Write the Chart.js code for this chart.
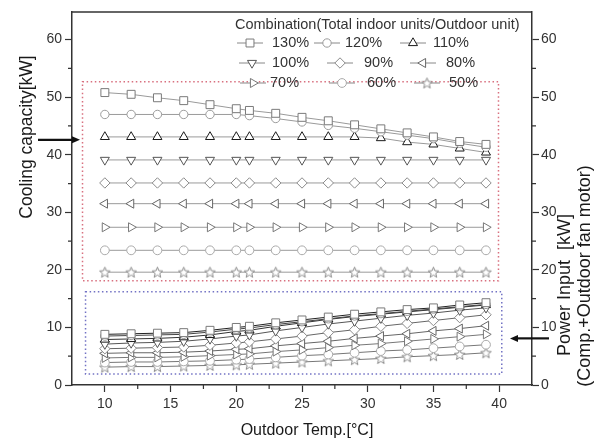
<!DOCTYPE html>
<html><head><meta charset="utf-8">
<script src="https://cdn.jsdelivr.net/npm/chart.js@4"></script>
<style>html,body{margin:0;padding:0;background:#fff}#wrap{width:608px;height:439px}</style>
</head><body><div id="wrap"><canvas id="c" width="608" height="439"></canvas></div>
<script>
// ---------------- DATA ----------------
const temps = [10, 12, 14, 16, 18, 20, 21, 23, 25, 27, 29, 31, 33, 35, 37, 39];
const combinations = ['130%', '120%', '110%', '100%', '90%', '80%', '70%', '60%', '50%'];

// Cooling capacity [kW] (left axis)
const capacity130 = [50.8, 50.5, 49.9, 49.4, 48.7, 48.0, 47.7, 47.2, 46.5, 45.9, 45.2, 44.5, 43.8, 43.1, 42.3, 41.8];
const capacity120 = [47.0, 47.0, 47.0, 47.0, 47.0, 47.0, 46.8, 46.3, 45.7, 45.1, 44.6, 44.0, 43.4, 42.8, 42.0, 41.3];
const capacity110 = [43.1, 43.1, 43.1, 43.1, 43.1, 43.1, 43.1, 43.1, 43.1, 43.1, 43.1, 42.9, 42.2, 41.8, 41.1, 40.4];
const capacity100 = [39.1, 39.1, 39.1, 39.1, 39.1, 39.1, 39.1, 39.1, 39.1, 39.1, 39.1, 39.1, 39.1, 39.1, 39.1, 39.1];
const capacity90  = [35.1, 35.1, 35.1, 35.1, 35.1, 35.1, 35.1, 35.1, 35.1, 35.1, 35.1, 35.1, 35.1, 35.1, 35.1, 35.1];
const capacity80  = [31.5, 31.5, 31.5, 31.5, 31.5, 31.5, 31.5, 31.5, 31.5, 31.5, 31.5, 31.5, 31.5, 31.5, 31.5, 31.5];
const capacity70  = [27.4, 27.4, 27.4, 27.4, 27.4, 27.4, 27.4, 27.4, 27.4, 27.4, 27.4, 27.4, 27.4, 27.4, 27.4, 27.4];
const capacity60  = [23.4, 23.4, 23.4, 23.4, 23.4, 23.4, 23.4, 23.4, 23.4, 23.4, 23.4, 23.4, 23.4, 23.4, 23.4, 23.4];
const capacity50  = [19.6, 19.6, 19.6, 19.6, 19.6, 19.6, 19.6, 19.6, 19.6, 19.6, 19.6, 19.6, 19.6, 19.6, 19.6, 19.6];

// Power input [kW] (right axis)
const power130 = [8.8, 8.9, 9.0, 9.1, 9.5, 10.0, 10.2, 10.8, 11.3, 11.8, 12.3, 12.7, 13.1, 13.4, 13.9, 14.3];
const power120 = [8.5, 8.6, 8.7, 8.8, 9.2, 9.7, 9.9, 10.5, 11.0, 11.5, 12.0, 12.4, 12.8, 13.2, 13.6, 14.0];
const power110 = [7.9, 8.0, 8.1, 8.3, 8.7, 9.3, 9.5, 10.2, 10.8, 11.4, 11.9, 12.3, 12.7, 13.1, 13.5, 13.9];
const power100 = [7.1, 7.3, 7.4, 7.6, 8.0, 8.5, 8.7, 9.4, 10.0, 10.6, 11.1, 11.6, 12.1, 12.5, 13.0, 13.4];
const power90  = [6.3, 6.4, 6.5, 6.6, 6.9, 7.3, 7.5, 8.0, 8.5, 9.1, 9.6, 10.2, 10.7, 11.2, 11.7, 12.2];
const power80  = [5.5, 5.6, 5.6, 5.7, 5.9, 6.2, 6.3, 6.8, 7.2, 7.6, 8.1, 8.5, 8.9, 9.4, 9.8, 10.3];
const power70  = [4.7, 4.8, 4.8, 4.9, 5.1, 5.3, 5.4, 5.8, 6.1, 6.5, 6.9, 7.2, 7.6, 8.0, 8.4, 8.8];
const power60  = [3.9, 4.0, 4.0, 4.1, 4.2, 4.4, 4.5, 4.8, 5.1, 5.3, 5.6, 5.9, 6.1, 6.4, 6.7, 7.0];
const power50  = [3.1, 3.2, 3.2, 3.3, 3.4, 3.5, 3.6, 3.8, 4.0, 4.2, 4.4, 4.6, 4.9, 5.1, 5.3, 5.6];

const xTickValues = [10, 15, 20, 25, 30, 35, 40];
const yTickValues = [0, 10, 20, 30, 40, 50, 60];
const legendTitle = 'Combination(Total indoor units/Outdoor unit)';
const xTitle = 'Outdoor Temp.[\u00B0C]';
const yTitle = 'Cooling capacity[kW]';
const y2TitleLines = ['Power Input  [kW]', '(Comp.+Outdoor fan motor)'];
// ---------------------------------------

const capacitySeries = [capacity130, capacity120, capacity110, capacity100, capacity90, capacity80, capacity70, capacity60, capacity50];
const powerSeries = [power130, power120, power110, power100, power90, power80, power70, power60, power50];

function makeStar(color) {
  const c = document.createElement('canvas');
  c.width = 13; c.height = 13;
  const g = c.getContext('2d');
  g.strokeStyle = color; g.lineWidth = 1; g.fillStyle = '#fff';
  g.beginPath();
  for (let i = 0; i < 10; i++) {
    const r = i % 2 ? 2.4 : 5.6;
    const a = -Math.PI / 2 + i * Math.PI / 5;
    g.lineTo(6.5 + r * Math.cos(a), 7 + r * Math.sin(a));
  }
  g.closePath(); g.fill(); g.stroke();
  return c;
}

const markerStyles = [
  {style: 'rect', rot: 0, color: '#7a7a7a', r: 5.6},
  {style: 'circle', rot: 0, color: '#9a9a9a', r: 4.2},
  {style: 'triangle', rot: 0, color: '#1a1a1a', r: 5.2},
  {style: 'triangle', rot: 180, color: '#555', r: 5.2},
  {style: 'rectRot', rot: 0, color: '#8a8a8a', r: 5.2},
  {style: 'triangle', rot: -90, color: '#666', r: 5.2},
  {style: 'triangle', rot: 90, color: '#777', r: 5.2},
  {style: 'circle', rot: 0, color: '#aaa', r: 4.4},
  {style: makeStar('#8a8a8a'), rot: 0, color: '#8a8a8a', r: 5.5}
];
const powerLineColors = ['#222', '#444', '#333', '#555', '#666', '#666', '#777', '#777', '#777'];

const datasets = [];
combinations.forEach((name, i) => {
  const m = markerStyles[i];
  datasets.push({
    label: name + ' cap', yAxisID: 'y',
    data: temps.map((t, j) => ({x: t, y: capacitySeries[i][j]})),
    borderColor: '#9a9a9a', borderWidth: 1,
    pointStyle: m.style, pointRotation: m.rot, pointRadius: m.r,
    pointBorderColor: m.color, pointBackgroundColor: '#fff', pointBorderWidth: 1,
    tension: 0, fill: false
  });
});
combinations.forEach((name, i) => {
  const m = markerStyles[i];
  datasets.push({
    label: name + ' power', yAxisID: 'y2',
    data: temps.map((t, j) => ({x: t, y: powerSeries[i][j]})),
    borderColor: powerLineColors[i], borderWidth: 1,
    pointStyle: m.style, pointRotation: m.rot, pointRadius: m.r,
    pointBorderColor: m.color, pointBackgroundColor: '#fff', pointBorderWidth: 1,
    tension: 0, fill: false
  });
});

const FONT = "'Liberation Sans', Arial, sans-serif";
const AXIS = '#333';

function axisCommon(extra) {
  return Object.assign({
    type: 'linear',
    grid: {drawOnChartArea: false, drawTicks: true, tickLength: 7, tickColor: AXIS, tickWidth: 1.2},
    border: {display: true, color: AXIS, width: 1.5},
    ticks: {color: '#333', font: {family: FONT, size: 14}, autoSkip: false, maxRotation: 0, padding: 3}
  }, extra);
}

const decorPlugin = {
  id: 'decor',
  beforeDatasetsDraw(chart) {
    const ctx = chart.ctx, x = chart.scales.x, y = chart.scales.y, y2 = chart.scales.y2;
    ctx.save();
    ctx.lineWidth = 1.5;
    ctx.setLineDash([1.5, 2.6]);
    ctx.strokeStyle = '#d8707f';
    let l = x.getPixelForValue(8.3), r = x.getPixelForValue(39.95), t = y.getPixelForValue(52.7), b = y.getPixelForValue(18.1);
    ctx.strokeRect(l, t, r - l, b - t);
    ctx.strokeStyle = '#7272c4';
    l = x.getPixelForValue(8.53); r = x.getPixelForValue(40.2); t = y2.getPixelForValue(16.2); b = y2.getPixelForValue(1.9);
    ctx.strokeRect(l, t, r - l, b - t);
    ctx.restore();
  },
  afterDraw(chart) {
    const ctx = chart.ctx, ca = chart.chartArea;
    const x = chart.scales.x, y = chart.scales.y, y2 = chart.scales.y2;
    ctx.save();
    // frame top
    ctx.strokeStyle = AXIS; ctx.lineWidth = 1.5;
    ctx.beginPath(); ctx.moveTo(ca.left, ca.top); ctx.lineTo(ca.right, ca.top); ctx.stroke();
    // minor ticks
    ctx.lineWidth = 1.2;
    ctx.beginPath();
    for (let v = 12.5; v < 42.5; v += 5) { const px = x.getPixelForValue(v); ctx.moveTo(px, ca.bottom); ctx.lineTo(px, ca.bottom + 4); }
    for (let v = 5; v < 64; v += 10) {
      const py = y.getPixelForValue(v); ctx.moveTo(ca.left, py); ctx.lineTo(ca.left - 4, py);
      const py2 = y2.getPixelForValue(v); ctx.moveTo(ca.right, py2); ctx.lineTo(ca.right + 4, py2);
    }
    ctx.stroke();

    // arrows
    ctx.fillStyle = '#111'; ctx.strokeStyle = '#111'; ctx.lineWidth = 2.2;
    let ay = y.getPixelForValue(42.6);
    ctx.beginPath(); ctx.moveTo(ca.left - 34, ay); ctx.lineTo(ca.left + 1, ay); ctx.stroke();
    ctx.beginPath(); ctx.moveTo(ca.left + 8, ay); ctx.lineTo(ca.left, ay - 3.5); ctx.lineTo(ca.left, ay + 3.5); ctx.closePath(); ctx.fill();
    ay = y2.getPixelForValue(8.1);
    ctx.beginPath(); ctx.moveTo(ca.right + 17, ay); ctx.lineTo(ca.right - 14, ay); ctx.stroke();
    ctx.beginPath(); ctx.moveTo(ca.right - 22, ay); ctx.lineTo(ca.right - 14, ay - 3.5); ctx.lineTo(ca.right - 14, ay + 3.5); ctx.closePath(); ctx.fill();

    // axis titles
    ctx.fillStyle = '#1a1a1a';
    ctx.textAlign = 'center'; ctx.textBaseline = 'middle';
    ctx.font = '16px ' + FONT;
    ctx.fillText(xTitle, 307, 431);
    ctx.save(); ctx.translate(27, 137); ctx.rotate(-Math.PI / 2);
    ctx.font = '17.5px ' + FONT; ctx.fillText(yTitle, 0, 0); ctx.restore();
    ctx.save(); ctx.translate(565, 285); ctx.rotate(-Math.PI / 2);
    ctx.font = '18px ' + FONT; ctx.fillText(y2TitleLines[0], 0, 0); ctx.restore();
    ctx.save(); ctx.translate(585, 276); ctx.rotate(-Math.PI / 2);
    ctx.font = '18px ' + FONT; ctx.fillText(y2TitleLines[1], 0, 0); ctx.restore();

    // legend
    ctx.textAlign = 'left';
    ctx.fillStyle = '#333';
    ctx.font = '14.5px ' + FONT;
    ctx.fillText(legendTitle, 235, 25);
    const rows = [43, 63, 83];
    const layout = [
      [[250, 272], [327, 345], [413, 433]],
      [[252, 272], [340, 364], [423, 446]],
      [[253, 270], [342, 367], [427, 449]]
    ];
    combinations.forEach((name, i) => {
      const row = Math.floor(i / 3), col = i % 3;
      const [mx, tx] = layout[row][col];
      const ly = rows[row];
      const m = markerStyles[i];
      ctx.strokeStyle = '#888'; ctx.lineWidth = 1;
      ctx.beginPath(); ctx.moveTo(mx - 13, ly); ctx.lineTo(mx + 13, ly); ctx.stroke();
      ctx.fillStyle = '#fff'; ctx.strokeStyle = m.color; ctx.lineWidth = 1;
      Chart.helpers.drawPoint(ctx, {pointStyle: m.style, rotation: m.rot, radius: m.r, borderWidth: 1}, mx, ly);
      ctx.fillStyle = '#333';
      ctx.fillText(name, tx, ly);
    });
    ctx.restore();
  }
};

new Chart(document.getElementById('c'), {
  type: 'line',
  data: {datasets},
  options: {
    responsive: false, animation: false, devicePixelRatio: 1,
    layout: {padding: {top: 12, left: 0, right: 0, bottom: 0}},
    plugins: {legend: {display: false}, tooltip: {enabled: false}, title: {display: false}},
    scales: {
      x: axisCommon({position: 'bottom', min: 7.5, max: 42.5,
        afterBuildTicks: s => { s.ticks = xTickValues.map(v => ({value: v})); },
        afterFit: s => { s.height = 54; },
        ticks: {color: '#333', font: {family: FONT, size: 14}, autoSkip: false, maxRotation: 0, padding: 4}}),
      y: axisCommon({position: 'left', min: 0, max: 64.8,
        afterBuildTicks: s => { s.ticks = yTickValues.map(v => ({value: v})); },
        afterFit: s => { s.width = 72; }}),
      y2: axisCommon({position: 'right', min: 0, max: 64.8,
        afterBuildTicks: s => { s.ticks = yTickValues.map(v => ({value: v})); },
        afterFit: s => { s.width = 76; },
        ticks: {color: '#333', font: {family: FONT, size: 14}, autoSkip: false, maxRotation: 0, padding: 2}})
    }
  },
  plugins: [decorPlugin]
});
</script>
</body></html>
